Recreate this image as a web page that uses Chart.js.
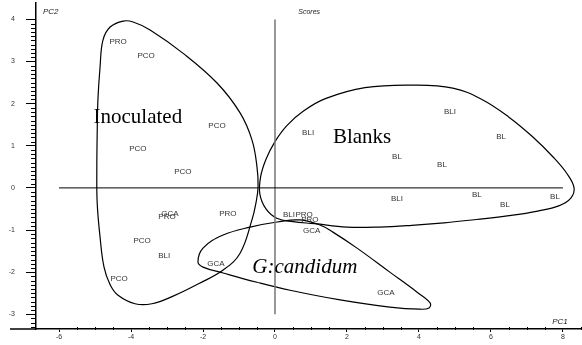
<!DOCTYPE html>
<html>
<head>
<meta charset="utf-8">
<script src="https://cdn.jsdelivr.net/npm/chart.js@4.4.0/dist/chart.umd.min.js"></script>
<style>
  body { margin: 0; background: #fff; }
  #wrap { width: 582px; height: 345px; }
</style>
</head>
<body>
<div id="wrap"><canvas id="grafico" width="582" height="345"></canvas></div>
<script>
/* DATOS */
const xTicks = [-6, -4, -2, 0, 2, 4, 6, 8];
const yTicks = [-3, -2, -1, 0, 1, 2, 3, 4];

// muestras (PC1, PC2)
const sampleNames = ['PRO', 'PCO', 'PCO', 'PCO', 'PCO', 'BLI', 'BLI', 'BL', 'BL', 'BL',
  'GCA', 'PRO', 'PRO', 'PCO', 'BLI', 'PCO', 'GCA', 'BLI', 'BL', 'BL', 'BL',
  'BLI', 'PRO', 'PRO', 'GCA', 'GCA'];
const sampleX = [-4.36, -3.58, -1.61, -3.81, -2.56, 4.86, 0.92, 6.28, 3.39, 4.64,
  -2.92, -3.0, -1.31, -3.69, -3.08, -4.33, -1.64, 3.39, 5.61, 6.39, 7.78,
  0.39, 0.81, 0.97, 1.02, 3.08];
const sampleY = [3.46, 3.13, 1.47, 0.92, 0.38, 1.80, 1.30, 1.21, 0.73, 0.54,
  -0.62, -0.69, -0.62, -1.26, -1.62, -2.16, -1.81, -0.26, -0.17, -0.41, -0.22,
  -0.64, -0.64, -0.76, -1.02, -2.49];

// grupos
const groupNames = ['Inoculated', 'Blanks', 'G:candidum'];
const groupX = [-3.81, 2.42, 0.83];
const groupY = [1.68, 1.19, -1.9];

// contornos dibujados a mano
const inoculatedOutline = [[-4.22, 3.96], [-3.94, 3.94], [-3.47, 3.75], [-2.56, 3.20], [-1.61, 2.49],
  [-0.97, 1.78], [-0.64, 1.14], [-0.50, 0.50], [-0.47, 0.02], [-0.53, -0.36], [-0.64, -0.76],
  [-0.97, -1.55], [-1.44, -1.95], [-2.11, -2.27], [-2.83, -2.57], [-3.42, -2.75], [-3.89, -2.75],
  [-4.36, -2.55], [-4.58, -2.30], [-4.75, -1.88], [-4.86, -1.17], [-4.94, -0.36], [-4.95, 0.43],
  [-4.94, 1.30], [-4.92, 2.09], [-4.86, 2.87], [-4.78, 3.51], [-4.58, 3.82]];
const blanksOutline = [[3.83, 2.44], [4.94, 2.37], [5.75, 2.1], [6.5, 1.68], [7.15, 1.22],
  [7.72, 0.74], [8.12, 0.33], [8.31, 0.0], [8.22, -0.24], [7.9, -0.42], [7.3, -0.55],
  [6.5, -0.66], [5.6, -0.75], [4.7, -0.83], [3.8, -0.89], [2.9, -0.93], [2.0, -0.93], [1.1, -0.85],
  [0.5, -0.8], [0.05, -0.72], [-0.25, -0.5], [-0.42, -0.15], [-0.40, 0.26],
  [-0.25, 0.68], [0.0, 1.1], [0.33, 1.48], [0.8, 1.83], [1.4, 2.12], [2.5, 2.38]];
const candidumOutline = [[-2.14, -1.76], [-2.0, -1.43], [-1.44, -1.12], [-0.69, -0.93], [0.06, -0.81],
  [0.69, -0.76], [1.25, -0.88], [1.61, -1.05], [2.28, -1.43], [3.19, -2.0], [3.94, -2.47],
  [4.31, -2.73], [4.28, -2.85], [4.03, -2.88], [3.19, -2.83], [1.81, -2.66], [0.42, -2.43],
  [-0.5, -2.24], [-1.44, -2.02], [-2.0, -1.88]];

// ejes de referencia
const zeroLineH = [[-6, 0], [8, 0]];
const zeroLineV = [[0, 4], [0, -3]];

/* HELPERS */
function toPoints(arr) {
  return arr.map(p => ({ x: p[0], y: p[1] }));
}
// curva cerrada: se repiten puntos y se ocultan los tramos sobrantes
function loopDataset(outline) {
  const n = outline.length;
  const pts = [outline[n - 1]].concat(outline, [outline[0], outline[1]]);
  return {
    data: toPoints(pts),
    showLine: true,
    borderColor: '#000',
    borderWidth: 1.2,
    pointRadius: 0,
    tension: 0.4,
    fill: false,
    segment: {
      borderColor: ctx => (ctx.p0DataIndex === 0 || ctx.p0DataIndex === n + 1) ? 'rgba(0,0,0,0)' : undefined
    }
  };
}

/* PLUGIN de textos y marcas menores */
const textos = {
  id: 'textos',
  afterDatasetsDraw(chart) {
    const c = chart.ctx;
    const xs = chart.scales.x, ys = chart.scales.y;
    const area = chart.chartArea;
    c.save();

    // marcas menores eje Y (cada 0.1)
    c.strokeStyle = '#000';
    c.lineWidth = 1;
    for (let i = -33; i <= 39; i++) {
      if (i % 10 === 0) continue;
      const py = Math.round(ys.getPixelForValue(i / 10)) + 0.5;
      c.beginPath();
      c.moveTo(area.left - 5, py);
      c.lineTo(area.left, py);
      c.stroke();
    }
    // marcas menores eje X (cada 0.5)
    for (let i = -12; i <= 17; i++) {
      if (i % 4 === 0) continue;
      const px = Math.round(xs.getPixelForValue(i / 2)) + 0.5;
      c.beginPath();
      c.moveTo(px, area.bottom - 2);
      c.lineTo(px, area.bottom + 1);
      c.stroke();
    }
    // prolongacion del eje X a la izquierda
    c.lineWidth = 1.5;
    c.beginPath();
    c.moveTo(10, area.bottom);
    c.lineTo(area.left, area.bottom);
    c.stroke();

    // etiquetas de muestras
    const metaS = chart.getDatasetMeta(0);
    c.fillStyle = '#333';
    c.font = '8px "Liberation Sans", Arial, sans-serif';
    c.textAlign = 'center';
    c.textBaseline = 'middle';
    metaS.data.forEach((el, i) => {
      c.fillText(sampleNames[i], el.x, el.y);
    });

    // nombres de grupos
    const metaG = chart.getDatasetMeta(1);
    c.fillStyle = '#000';
    metaG.data.forEach((el, i) => {
      c.font = (i === 2 ? 'italic ' : '') + '21px "Liberation Serif", "Times New Roman", serif';
      c.fillText(groupNames[i], el.x, el.y);
    });

    // titulos de ejes
    c.fillStyle = '#222';
    c.font = 'italic 8px "Liberation Sans", Arial, sans-serif';
    c.textAlign = 'left';
    c.fillText('PC2', area.left + 7, 12);
    c.fillText('PC1', xs.getPixelForValue(7.7), area.bottom - 7);
    c.font = 'italic 7px "Liberation Sans", Arial, sans-serif';
    c.textAlign = 'center';
    c.fillText('Scores', xs.getPixelForValue(0.95), 12);
    c.restore();
  }
};

/* GRAFICO */
const ctx = document.getElementById('grafico').getContext('2d');

const datasets = [
  {
    data: sampleX.map((x, i) => ({ x: x, y: sampleY[i] })),
    pointRadius: 0,
    showLine: false
  },
  {
    data: groupX.map((x, i) => ({ x: x, y: groupY[i] })),
    pointRadius: 0,
    showLine: false
  },
  {
    data: toPoints(zeroLineH),
    showLine: true,
    borderColor: '#000',
    borderWidth: 1,
    pointRadius: 0
  },
  {
    data: toPoints(zeroLineV),
    showLine: true,
    borderColor: '#777',
    borderWidth: 1.5,
    pointRadius: 0
  },
  loopDataset(inoculatedOutline),
  loopDataset(blanksOutline),
  loopDataset(candidumOutline)
];

const fuente = { family: '"Liberation Sans", Arial, sans-serif', size: 7 };

const options = {
  responsive: false,
  animation: false,
  layout: { padding: { top: 3, right: 0, bottom: 0, left: 0 } },
  plugins: {
    legend: { display: false },
    tooltip: { enabled: false }
  },
  scales: {
    x: {
      type: 'linear',
      position: 'bottom',
      min: -6.64,
      max: 8.53,
      afterBuildTicks: s => { s.ticks = xTicks.map(v => ({ value: v })); },
      afterFit: s => { s.height = 16; s.paddingLeft = 0; s.paddingRight = 0; },
      grid: { drawOnChartArea: false, drawTicks: true, tickLength: 3, color: '#000', lineWidth: 1 },
      border: { display: true, color: '#000', width: 1.5 },
      ticks: { font: fuente, color: '#333', padding: 1, maxRotation: 0, autoSkip: false }
    },
    y: {
      type: 'linear',
      position: 'left',
      min: -3.35,
      max: 4.39,
      afterBuildTicks: s => { s.ticks = yTicks.map(v => ({ value: v })); },
      afterFit: s => { s.width = 36; s.paddingTop = 0; s.paddingBottom = 0; },
      grid: { drawOnChartArea: false, drawTicks: true, tickLength: 10, color: '#000', lineWidth: 1 },
      border: { display: true, color: '#000', width: 1.5 },
      ticks: { font: fuente, color: '#333', padding: 11, autoSkip: false }
    }
  }
};

const miGrafico = new Chart(ctx, {
  type: 'scatter',
  data: { datasets: datasets },
  options: options,
  plugins: [textos]
});
</script>
</body>
</html>
